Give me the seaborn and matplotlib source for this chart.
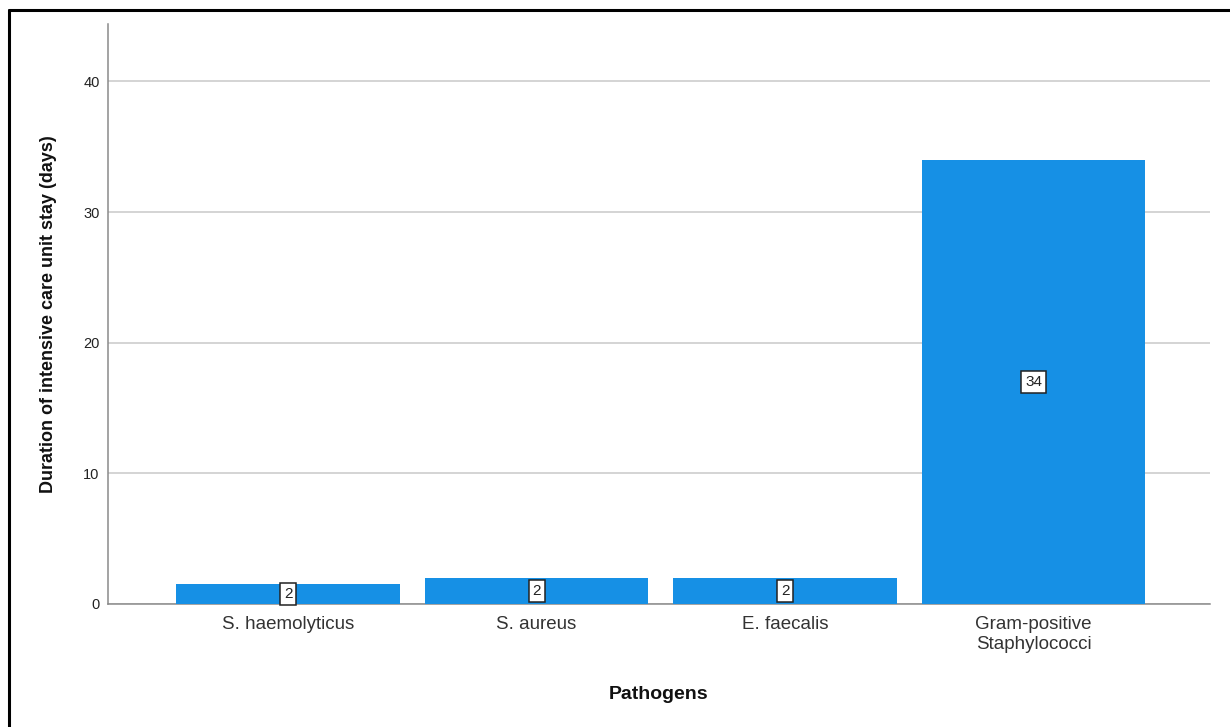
import matplotlib
matplotlib.use("Agg")
import matplotlib.pyplot as plt
import seaborn as sns
import pandas as pd
from matplotlib.lines import Line2D

# Data
pathogens = ["S. haemolyticus", "S. aureus", "E. faecalis", "Gram-positive\nStaphylococci"]
icu_days = [1.5, 2, 2, 34]
y_ticks = [0, 10, 20, 30, 40]

df = pd.DataFrame({"Pathogens": pathogens, "Days": icu_days})

sns.set_theme(style="white")
plt.rcParams["font.family"] = ["Liberation Sans", "DejaVu Sans"]

fig = plt.figure(figsize=(12.3, 7.27), dpi=100)
ax = fig.add_axes([0.0878, 0.1692, 0.8959, 0.7978])

bar_color = "#1690e5"
sns.barplot(data=df, x="Pathogens", y="Days", color=bar_color, width=0.9,
            saturation=1, ax=ax, zorder=3, linewidth=0)

ax.set_ylim(0, 44.4)
ax.set_xlim(-0.725, 3.71)
ax.set_yticks(y_ticks)
ax.yaxis.grid(True, color="#c9c9c9", linewidth=1.1, zorder=0)
ax.xaxis.grid(False)

for side in ["top", "right"]:
    ax.spines[side].set_visible(False)
for side in ["left", "bottom"]:
    ax.spines[side].set_color("#8a8a8a")
    ax.spines[side].set_linewidth(1.1)

ax.tick_params(axis="y", length=0, pad=6, labelsize=10.5, labelcolor="#222222")
ax.tick_params(axis="x", length=0, pad=9, labelsize=13.5, labelcolor="#333333")
for lbl in ax.get_xticklabels():
    lbl.set_linespacing(1.2)

ax.set_xlabel("Pathogens", fontsize=14, fontweight="bold", labelpad=24, color="#111111")
ax.set_ylabel("Duration of intensive care unit stay (days)", fontsize=13,
              fontweight="bold", labelpad=19, color="#111111")

# Value labels in the middle of each bar
for i, v in enumerate(icu_days):
    ax.text(i, v / 2, f"{v:.0f}", ha="center", va="center", fontsize=11,
            color="#222222", zorder=5,
            bbox=dict(boxstyle="square,pad=0.25", facecolor="white",
                      edgecolor="#222222", linewidth=1.1))

# Frame lines along the top and left edges of the figure
fig.add_artist(Line2D([0.0075, 1.0], [0.986, 0.986], transform=fig.transFigure,
                      color="black", linewidth=2.2))
fig.add_artist(Line2D([0.0075, 0.0075], [0.0, 0.986], transform=fig.transFigure,
                      color="black", linewidth=2.2))

fig.savefig("out.png", dpi=100, facecolor="white")
